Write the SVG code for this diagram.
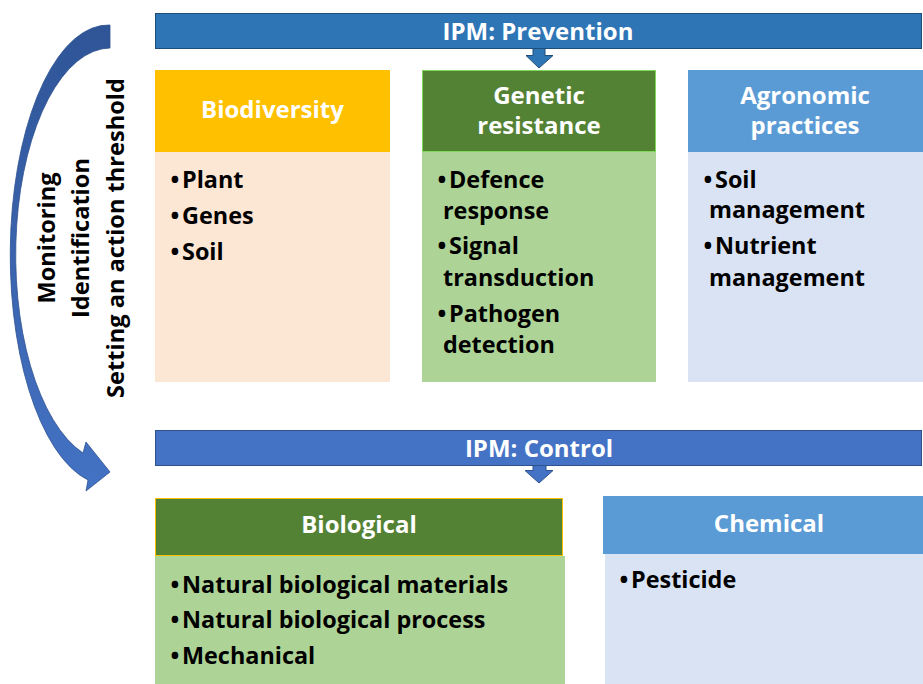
<svg xmlns="http://www.w3.org/2000/svg" width="923" height="684" viewBox="0 0 923 684">
<defs>
<linearGradient id="gArc" x1="0" y1="0" x2="0" y2="1">
<stop offset="0" stop-color="#2F5597"/>
<stop offset="1" stop-color="#4472C4"/>
</linearGradient>
<style>
.hd{font-family:"Open Sans","Liberation Sans",sans-serif;font-weight:700;font-size:24px;fill:#ffffff;text-anchor:middle}
.bd{font-family:"Open Sans","Liberation Sans",sans-serif;font-weight:700;font-size:23.4px;fill:#000000}
.rt{font-family:"Open Sans","Liberation Sans",sans-serif;font-weight:700;font-size:23.6px;fill:#000000;text-anchor:middle}
.bar1{fill:#2E75B6;stroke:#1F4E79;stroke-width:1}
.bar2{fill:#4472C4;stroke:#2F528F;stroke-width:1}
.orangeH{fill:#FFC000}
.greenH{fill:#548235}
.blueH{fill:#5B9BD5}
.peach{fill:#FCE6D4}
.lgreen{fill:#ADD496}
.lblue{fill:#DAE3F3}
</style>
</defs>
<rect width="923" height="684" fill="#ffffff"/>

<g id="ipm-prevention">
<rect class="bar1" x="155.5" y="13.5" width="766" height="35"/>
<text class="hd" x="538" y="40">IPM: Prevention</text>
</g>

<g id="biodiversity">
<rect class="peach" x="155" y="152" width="235" height="230"/>
<rect class="orangeH" x="155" y="70" width="235" height="82"/>
<text class="hd" x="272.5" y="118">Biodiversity</text>
<text class="bd" y="188"><tspan x="170.5">•</tspan><tspan x="182">Plant</tspan></text>
<text class="bd" y="224"><tspan x="170.5">•</tspan><tspan x="182">Genes</tspan></text>
<text class="bd" y="260"><tspan x="170.5">•</tspan><tspan x="182">Soil</tspan></text>
</g>

<g id="genetic-resistance">
<rect class="lgreen" x="422" y="152" width="234" height="230"/>
<rect class="greenH" x="422.5" y="70.5" width="233" height="81" stroke="#7ED957" stroke-width="1"/>
<text class="hd" x="539" y="104">Genetic</text>
<text class="hd" x="539" y="134">resistance</text>
<text class="bd" y="188"><tspan x="437.5">•</tspan><tspan x="449">Defence</tspan></text>
<text class="bd" x="443" y="219">response</text>
<text class="bd" y="254"><tspan x="437.5">•</tspan><tspan x="449">Signal</tspan></text>
<text class="bd" x="443" y="286">transduction</text>
<text class="bd" y="322"><tspan x="437.5">•</tspan><tspan x="449">Pathogen</tspan></text>
<text class="bd" x="443" y="353">detection</text>
</g>

<g id="agronomic-practices">
<rect class="lblue" x="688" y="152" width="235" height="230"/>
<rect class="blueH" x="688" y="70" width="235" height="82"/>
<text class="hd" x="805" y="104">Agronomic</text>
<text class="hd" x="805" y="134">practices</text>
<text class="bd" y="188"><tspan x="703.5">•</tspan><tspan x="715">Soil</tspan></text>
<text class="bd" x="709" y="218">management</text>
<text class="bd" y="254"><tspan x="703.5">•</tspan><tspan x="715">Nutrient</tspan></text>
<text class="bd" x="709" y="286">management</text>
</g>

<g id="ipm-control">
<rect class="bar2" x="155.5" y="430.5" width="766" height="35"/>
<text class="hd" x="539" y="457">IPM: Control</text>
</g>

<g id="biological">
<rect class="lgreen" x="155" y="556" width="410" height="128"/>
<rect class="greenH" x="155.5" y="498.5" width="407" height="57" stroke="#FFC000" stroke-width="1"/>
<text class="hd" x="359" y="533">Biological</text>
<text class="bd" y="593"><tspan x="170.5">•</tspan><tspan x="182">Natural biological materials</tspan></text>
<text class="bd" y="628"><tspan x="170.5">•</tspan><tspan x="182">Natural biological process</tspan></text>
<text class="bd" y="664"><tspan x="170.5">•</tspan><tspan x="182">Mechanical</tspan></text>
</g>

<g id="chemical">
<rect class="lblue" x="605" y="554" width="318" height="130"/>
<rect class="blueH" x="603" y="496" width="320" height="58"/>
<text class="hd" x="769" y="532">Chemical</text>
<text class="bd" y="588"><tspan x="619.5">•</tspan><tspan x="631">Pesticide</tspan></text>
</g>

<g id="monitoring-label">
<text class="rt" transform="translate(55,238) rotate(-90)">Monitoring</text>
<text class="rt" transform="translate(89,238) rotate(-90)">Identification</text>
<text class="rt" transform="translate(124,238) rotate(-90)">Setting an action threshold</text>
</g>

<g id="connectors">
<path d="M533,48.5 H545 V55.5 H553 L539,68 L526,55.5 H533 Z" fill="#2E75B6" stroke="#1F4E79" stroke-width="1"/>
<path d="M533,465.5 H546 V470.5 H553 L539,483 L525,470.5 H533 Z" fill="#4472C4" stroke="#2F528F" stroke-width="1"/>
<path d="M110,25 A98,230 0 0 0 88,480 L86,491 L110,472 L86,442 L83,453 A95,207 0 0 1 110,48 Z" fill="url(#gArc)" stroke="#2F528F" stroke-width="0.8"/>
</g>
</svg>
